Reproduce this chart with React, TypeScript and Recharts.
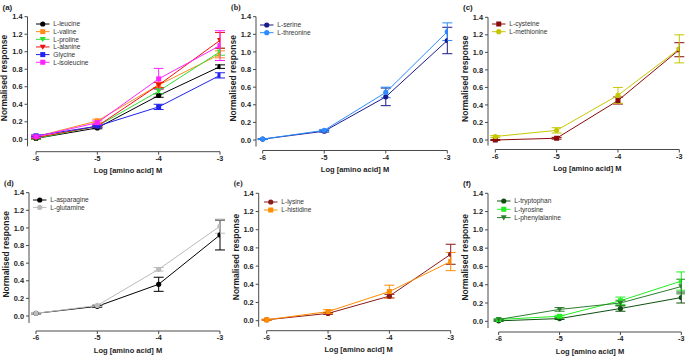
import React from 'react';
import { ComposedChart, Line, XAxis, YAxis, ErrorBar, ReferenceLine, Legend } from 'recharts';

// ---------- data ----------
const concentrations = [-6, -5, -4, -3];
const yTicks = [0, 0.2, 0.4, 0.6, 0.8, 1.0, 1.2, 1.4];

// panel (a)
const leucine = [0.01, 0.13, 0.5, 0.83];
const leucineErr = [0.01, 0.01, 0.02, 0.02];
const valine = [0.03, 0.21, 0.62, 0.97];
const valineErr = [0.01, 0.02, 0.03, 0.04];
const proline = [0.01, 0.15, 0.55, 1.0];
const prolineErr = [0.01, 0.01, 0.03, 0.04];
const alanine = [0.02, 0.15, 0.62, 1.13];
const alanineErr = [0.01, 0.01, 0.03, 0.09];
const glycine = [0.04, 0.15, 0.37, 0.73];
const glycineErr = [0.01, 0.01, 0.03, 0.03];
const isoleucine = [0.03, 0.19, 0.69, 1.07];
const isoleucineErr = [0.01, 0.02, 0.12, 0.17];

// panel (b)
const serine = [0.01, 0.1, 0.49, 1.13];
const serineErr = [0.005, 0.01, 0.1, 0.15];
const threonine = [0.01, 0.11, 0.54, 1.23];
const threonineErr = [0.005, 0.01, 0.06, 0.1];

// panel (c)
const cysteine = [0.0, 0.02, 0.45, 1.03];
const cysteineErr = [0.005, 0.01, 0.04, 0.08];
const methionine = [0.04, 0.11, 0.51, 1.04];
const methionineErr = [0.01, 0.03, 0.09, 0.16];

// panel (d)
const asparagine = [0.03, 0.11, 0.36, 0.92];
const asparagineErr = [0.01, 0.01, 0.08, 0.17];
const glutamine = [0.03, 0.12, 0.53, 1.02];
const glutamineErr = [0.01, 0.01, 0.02, 0.08];

// panel (e)
const lysine = [0.01, 0.08, 0.27, 0.73];
const lysineErr = [0.005, 0.01, 0.02, 0.11];
const histidine = [0.01, 0.1, 0.32, 0.65];
const histidineErr = [0.005, 0.02, 0.07, 0.1];

// panel (f)
const tryptophan = [0.005, 0.03, 0.14, 0.26];
const tryptophanErr = [0.005, 0.01, 0.03, 0.06];
const tyrosine = [0.02, 0.055, 0.225, 0.44];
const tyrosineErr = [0.005, 0.01, 0.04, 0.1];
const phenylalanine = [0.02, 0.13, 0.2, 0.38];
const phenylalanineErr = [0.005, 0.02, 0.03, 0.08];

// ---------- config ----------
type Shape = 'circle' | 'square' | 'triangle';
interface Series { key: string; name: string; color: string; shape: Shape; values: number[]; errors: number[] }
interface Panel {
  label: string; labelFont: string;
  yAxisX: number; x6: number; x3: number; y14: number; y0: number; xAxisY: number;
  legendX: number; legendY: number; legendStep: number;
  series: Series[];
}

const W = 685;
const H = 358;
const FONT = '"Liberation Sans", Arial, sans-serif';
const AXIS = '#4a4a4a';
const TEXT = '#1e1e1e';

const panels: Panel[] = [
  {
    label: '(a)', labelFont: FONT,
    yAxisX: 27.5, x6: 36, x3: 220, y14: 16.7, y0: 139.3, xAxisY: 151.7,
    legendX: 36, legendY: 24, legendStep: 7.65,
    series: [
      { key: 'leucine', name: 'L-leucine', color: '#000000', shape: 'circle', values: leucine, errors: leucineErr },
      { key: 'valine', name: 'L-valine', color: '#ff8c1a', shape: 'square', values: valine, errors: valineErr },
      { key: 'proline', name: 'L-proline', color: '#33dd33', shape: 'triangle', values: proline, errors: prolineErr },
      { key: 'alanine', name: 'L-alanine', color: '#ee1111', shape: 'triangle', values: alanine, errors: alanineErr },
      { key: 'glycine', name: 'Glycine', color: '#2222ee', shape: 'square', values: glycine, errors: glycineErr },
      { key: 'isoleucine', name: 'L-isoleucine', color: '#ff22ff', shape: 'square', values: isoleucine, errors: isoleucineErr },
    ],
  },
  {
    label: '(b)', labelFont: '"Liberation Serif", "Times New Roman", serif',
    yAxisX: 256, x6: 262.7, x3: 447.3, y14: 16.7, y0: 140, xAxisY: 150.5,
    legendX: 260, legendY: 25, legendStep: 7.7,
    series: [
      { key: 'serine', name: 'L-serine', color: '#1a1a8c', shape: 'circle', values: serine, errors: serineErr },
      { key: 'threonine', name: 'L-threonine', color: '#2e8bff', shape: 'circle', values: threonine, errors: threonineErr },
    ],
  },
  {
    label: '(c)', labelFont: FONT,
    yAxisX: 488, x6: 495.3, x3: 679.3, y14: 17.3, y0: 140, xAxisY: 149.5,
    legendX: 492, legendY: 24.3, legendStep: 7.7,
    series: [
      { key: 'cysteine', name: 'L-cysteine', color: '#8b0a0a', shape: 'square', values: cysteine, errors: cysteineErr },
      { key: 'methionine', name: 'L-methionine', color: '#c4c800', shape: 'circle', values: methionine, errors: methionineErr },
    ],
  },
  {
    label: '(d)', labelFont: '"Liberation Serif", "Times New Roman", serif',
    yAxisX: 29, x6: 36, x3: 220, y14: 192.7, y0: 316, xAxisY: 331,
    legendX: 32.7, legendY: 200, legendStep: 7.4,
    series: [
      { key: 'asparagine', name: 'L-asparagine', color: '#000000', shape: 'circle', values: asparagine, errors: asparagineErr },
      { key: 'glutamine', name: 'L-glutamine', color: '#bbbbbb', shape: 'circle', values: glutamine, errors: glutamineErr },
    ],
  },
  {
    label: '(e)', labelFont: '"Liberation Serif", "Times New Roman", serif',
    yAxisX: 258.7, x6: 266.7, x3: 450.7, y14: 193.3, y0: 320.7, xAxisY: 330.7,
    legendX: 264, legendY: 202, legendStep: 8,
    series: [
      { key: 'lysine', name: 'L-lysine', color: '#8b1a1a', shape: 'circle', values: lysine, errors: lysineErr },
      { key: 'histidine', name: 'L-histidine', color: '#ff8c00', shape: 'square', values: histidine, errors: histidineErr },
    ],
  },
  {
    label: '(f)', labelFont: FONT,
    yAxisX: 488, x6: 498.7, x3: 681.3, y14: 193.3, y0: 321.3, xAxisY: 332,
    legendX: 497.3, legendY: 201.3, legendStep: 8.3,
    series: [
      { key: 'tryptophan', name: 'L-tryptophan', color: '#0f4f0f', shape: 'circle', values: tryptophan, errors: tryptophanErr },
      { key: 'tyrosine', name: 'L-tyrosine', color: '#22ee22', shape: 'square', values: tyrosine, errors: tyrosineErr },
      { key: 'phenylalanine', name: 'L-phenylalanine', color: '#2e7d2e', shape: 'triangle', values: phenylalanine, errors: phenylalanineErr },
    ],
  },
];

function Marker({ cx, cy, shape, color }: { cx?: number; cy?: number; shape: Shape; color: string }) {
  if (cx == null || cy == null || isNaN(cx) || isNaN(cy)) return null;
  if (shape === 'circle') return <circle cx={cx} cy={cy} r={2.6} fill={color} />;
  if (shape === 'square') return <rect x={cx - 2.5} y={cy - 2.5} width={5} height={5} fill={color} />;
  return <path d={`M${cx - 3},${cy - 2.3} L${cx + 3},${cy - 2.3} L${cx},${cy + 2.9} Z`} fill={color} />;
}

function PanelChart({ p }: { p: Panel }) {
  const pxX = (p.x3 - p.x6) / 3;
  const xmin = -6 - (p.x6 - p.yAxisX) / pxX;
  const pxY = (p.y0 - p.y14) / 1.4;
  const ymin = -(p.xAxisY - p.y0) / pxY;
  const yAxisBottom = Math.min(p.y0 + 7, p.xAxisY - 4);
  const yAxisBottomVal = -(yAxisBottom - p.y0) / pxY;
  const xAxisHeight = 24;

  const rows = concentrations.map((x, i) => {
    const r: Record<string, number> = { x };
    p.series.forEach((s) => {
      r[s.key] = s.values[i];
      r[s.key + 'Err'] = s.errors[i];
    });
    return r;
  });

  const legendContent = () => (
    <svg width={100} height={p.series.length * p.legendStep + 6} style={{ display: 'block', overflow: 'visible' }}>
      {p.series.map((s, i) => {
        const y = 3 + i * p.legendStep;
        return (
          <g key={s.key}>
            <line x1={0} x2={13.5} y1={y} y2={y} stroke={s.color} strokeWidth={1} />
            <Marker cx={6.75} cy={y} shape={s.shape} color={s.color} />
            <text x={17.3} y={y} dy="0.35em" fontSize={6.6} fill="#333" fontFamily={FONT}>{s.name}</text>
          </g>
        );
      })}
    </svg>
  );

  return (
    <div style={{ position: 'absolute', left: 0, top: 0 }}>
      <ComposedChart
        width={W}
        height={H}
        data={rows}
        margin={{ top: p.y14, right: W - p.x3, left: 0, bottom: H - p.xAxisY - xAxisHeight }}
      >
        <XAxis
          type="number"
          dataKey="x"
          domain={[xmin, -3]}
          allowDataOverflow
          ticks={concentrations}
          height={xAxisHeight}
          axisLine={false}
          tickLine={{ stroke: AXIS }}
          tickSize={3}
          tickMargin={1}
          tick={{ fontSize: 7.2, fontWeight: 'bold', fill: TEXT, fontFamily: FONT }}
          tickFormatter={(v: number) => String(v)}
        />
        <YAxis
          type="number"
          domain={[ymin, 1.4]}
          allowDataOverflow
          ticks={yTicks}
          width={p.yAxisX}
          axisLine={false}
          tickLine={{ stroke: AXIS }}
          tickSize={3}
          tickMargin={2}
          tick={{ fontSize: 7.4, fontWeight: 'bold', fill: TEXT, fontFamily: FONT }}
          tickFormatter={(v: number) => v.toFixed(1)}
        />
        <ReferenceLine
          segment={[{ x: xmin, y: yAxisBottomVal }, { x: xmin, y: 1.4 }]}
          stroke={AXIS}
          strokeWidth={1}
          ifOverflow="visible"
        />
        <ReferenceLine
          segment={[{ x: -6, y: ymin }, { x: -3, y: ymin }]}
          stroke={AXIS}
          strokeWidth={1}
          ifOverflow="visible"
        />
        {p.series.map((s) => (
          <Line
            key={s.key}
            dataKey={s.key}
            name={s.name}
            stroke={s.color}
            strokeWidth={1}
            isAnimationActive={false}
            dot={(props: any) => (
              <Marker key={`${s.key}-${props.index}`} cx={props.cx} cy={props.cy} shape={s.shape} color={s.color} />
            )}
            activeDot={false}
          >
            <ErrorBar dataKey={s.key + 'Err'} direction="y" width={5} stroke={s.color} strokeWidth={1} isAnimationActive={false} />
          </Line>
        ))}
        <Legend
          layout="vertical"
          align="center"
          verticalAlign="middle"
          content={legendContent}
          wrapperStyle={{ position: 'absolute', left: p.legendX, top: p.legendY - 3, width: 100, height: p.series.length * p.legendStep + 6 }}
        />
      </ComposedChart>
    </div>
  );
}

function Overlay() {
  return (
    <svg width={W} height={H} style={{ position: 'absolute', left: 0, top: 0, pointerEvents: 'none' }}>
      {panels.map((p) => {
        const xMid = (p.x6 + p.x3) / 2;
        const titleY = p.xAxisY + 19;
        const yMid = (p.y14 + p.y0) / 2;
        const yTitleX = p.yAxisX - 23;
        const labelY = p.y14 - 10;
        return (
          <g key={p.label}>
            <text x={p.yAxisX - 25} y={labelY} dy="0.35em" fontSize={8} fontWeight="bold" fill={TEXT} fontFamily={p.labelFont}>
              {p.label}
            </text>
            <text x={xMid} y={titleY} dy="0.35em" textAnchor="middle" fontSize={7.5} fontWeight="bold" fill={TEXT} fontFamily={FONT}>
              Log [amino acid] M
            </text>
            <text
              x={yTitleX}
              y={yMid}
              dy="0.35em"
              textAnchor="middle"
              fontSize={8.5}
              fontWeight="bold"
              fill={TEXT}
              fontFamily={FONT}
              transform={`rotate(-90 ${yTitleX} ${yMid})`}
            >
              Normalised response
            </text>
          </g>
        );
      })}
    </svg>
  );
}

export default function App() {
  return (
    <div style={{ position: 'absolute', left: 0, top: 0, width: W, height: H, background: '#ffffff', overflow: 'hidden' }}>
      {panels.map((p) => (
        <PanelChart key={p.label} p={p} />
      ))}
      <Overlay />
    </div>
  );
}
